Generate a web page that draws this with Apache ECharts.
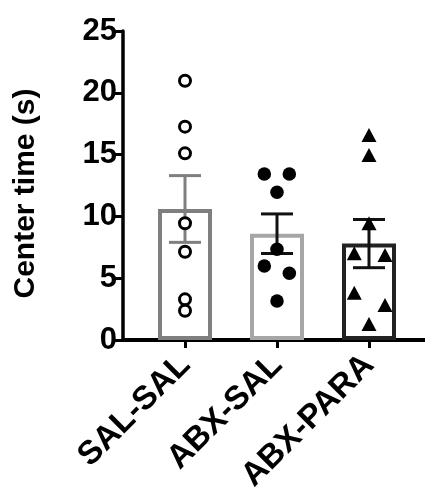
<!DOCTYPE html>
<html>
<head>
<meta charset="utf-8">
<script src="https://cdn.jsdelivr.net/npm/echarts@6/dist/echarts.min.js"></script>
<style>
html,body{margin:0;padding:0;background:#fff;}
#chart{width:425px;height:499px;}
</style>
</head>
<body>
<div id="chart"></div>
<script>
var categories = ['SAL-SAL', 'ABX-SAL', 'ABX-PARA'];
var means = [10.6, 8.6, 7.8];
var sems = [2.7, 1.6, 1.95];
var salSalValues = [20.98, 17.26, 15.1, 9.44, 7.14, 3.29, 2.37];
var salSalJitter = [0, 0, 0, 0, 0, 0, 0];
var abxSalValues = [13.43, 13.43, 11.95, 7.34, 5.99, 5.4, 3.16];
var abxSalJitter = [-0.138, 0.134, 0, 0, -0.138, 0.134, 0];
var abxParaValues = [16.59, 14.97, 9.44, 7.01, 6.88, 3.83, 2.83, 1.29];
var abxParaJitter = [0, 0, 0, -0.16, 0.174, -0.16, 0.174, 0];
var yTicks = [0, 5, 10, 15, 20, 25];

var barColors = ['#7f7f7f', '#a6a6a6', '#222222'];
var errColors = ['#7f7f7f', '#111111', '#111111'];
var FONT = 'Liberation Sans, Arial, sans-serif';

function pts(vals, jit, idx) {
  return vals.map(function (v, i) { return [idx + jit[i], v]; });
}

var chart = echarts.init(document.getElementById('chart'));
var option = {
  animation: false,
  backgroundColor: '#fff',
  grid: [
    { left: 123, right: 0, top: 31, bottom: 159 },
    { left: 139, right: 10, top: 31, bottom: 159 }
  ],
  xAxis: [
    { gridIndex: 0, type: 'value', min: 0, max: 1, show: true,
      axisLine: { show: true, onZero: false, lineStyle: { color: '#000', width: 4 } },
      axisTick: { show: false }, axisLabel: { show: false }, splitLine: { show: false } },
    { gridIndex: 1, type: 'category', data: categories,
      axisLine: { show: false },
      axisTick: { show: true, alignWithLabel: true, length: 8, lineStyle: { color: '#000', width: 3 } },
      axisLabel: { rotate: 45, fontSize: 33, fontWeight: 'bold', color: '#000', fontFamily: FONT, margin: 20, interval: 0 },
      splitLine: { show: false } },
    { gridIndex: 1, type: 'value', min: -0.5, max: 2.5, show: false }
  ],
  yAxis: [
    { gridIndex: 0, type: 'value', min: 0, max: 25, interval: 5,
      name: 'Center time (s)', nameLocation: 'middle', nameGap: 82, nameRotate: 90,
      nameTextStyle: { fontSize: 30, fontWeight: 'bold', color: '#000', fontFamily: FONT, padding: [0, 16, 0, 0] },
      axisLine: { show: true, lineStyle: { color: '#000', width: 3.5 } },
      axisTick: { show: true, length: 8, lineStyle: { color: '#000', width: 3 } },
      axisLabel: { fontSize: 31, fontWeight: 'bold', color: '#000', fontFamily: FONT, margin: 6,
        formatter: function (v) { return yTicks.indexOf(v) >= 0 ? String(v) : ''; } },
      splitLine: { show: false } },
    { gridIndex: 1, type: 'value', min: 0, max: 25, show: false }
  ],
  series: [
    { type: 'bar', xAxisIndex: 1, yAxisIndex: 1, barWidth: 54, z: 2,
      data: means.map(function (m, i) {
        return { value: m, itemStyle: { color: '#fff', borderColor: barColors[i], borderWidth: 4 } };
      }) },
    { type: 'custom', xAxisIndex: 1, yAxisIndex: 1, z: 3,
      data: means.map(function (m, i) { return [i, m - sems[i], m + sems[i]]; }),
      renderItem: function (params, api) {
        var i = api.value(0);
        var lo = api.coord([i, api.value(1)]);
        var hi = api.coord([i, api.value(2)]);
        var hw = 16;
        var st = { stroke: errColors[i], lineWidth: 3 };
        return { type: 'group', children: [
          { type: 'line', shape: { x1: hi[0], y1: hi[1], x2: lo[0], y2: lo[1] }, style: st },
          { type: 'line', shape: { x1: hi[0] - hw, y1: hi[1], x2: hi[0] + hw, y2: hi[1] }, style: st },
          { type: 'line', shape: { x1: lo[0] - hw, y1: lo[1], x2: lo[0] + hw, y2: lo[1] }, style: st }
        ] };
      } },
    { type: 'scatter', xAxisIndex: 2, yAxisIndex: 1, z: 5, symbol: 'circle', symbolSize: 11,
      itemStyle: { color: '#fff', borderColor: '#000', borderWidth: 3, opacity: 1 },
      data: pts(salSalValues, salSalJitter, 0) },
    { type: 'scatter', xAxisIndex: 2, yAxisIndex: 1, z: 5, symbol: 'circle', symbolSize: 13.5,
      itemStyle: { color: '#000', opacity: 1 },
      data: pts(abxSalValues, abxSalJitter, 1) },
    { type: 'scatter', xAxisIndex: 2, yAxisIndex: 1, z: 5, symbol: 'triangle', symbolSize: [15, 14],
      itemStyle: { color: '#000', opacity: 1 },
      data: pts(abxParaValues, abxParaJitter, 2) }
  ]
};
chart.setOption(option);
</script>
</body>
</html>
